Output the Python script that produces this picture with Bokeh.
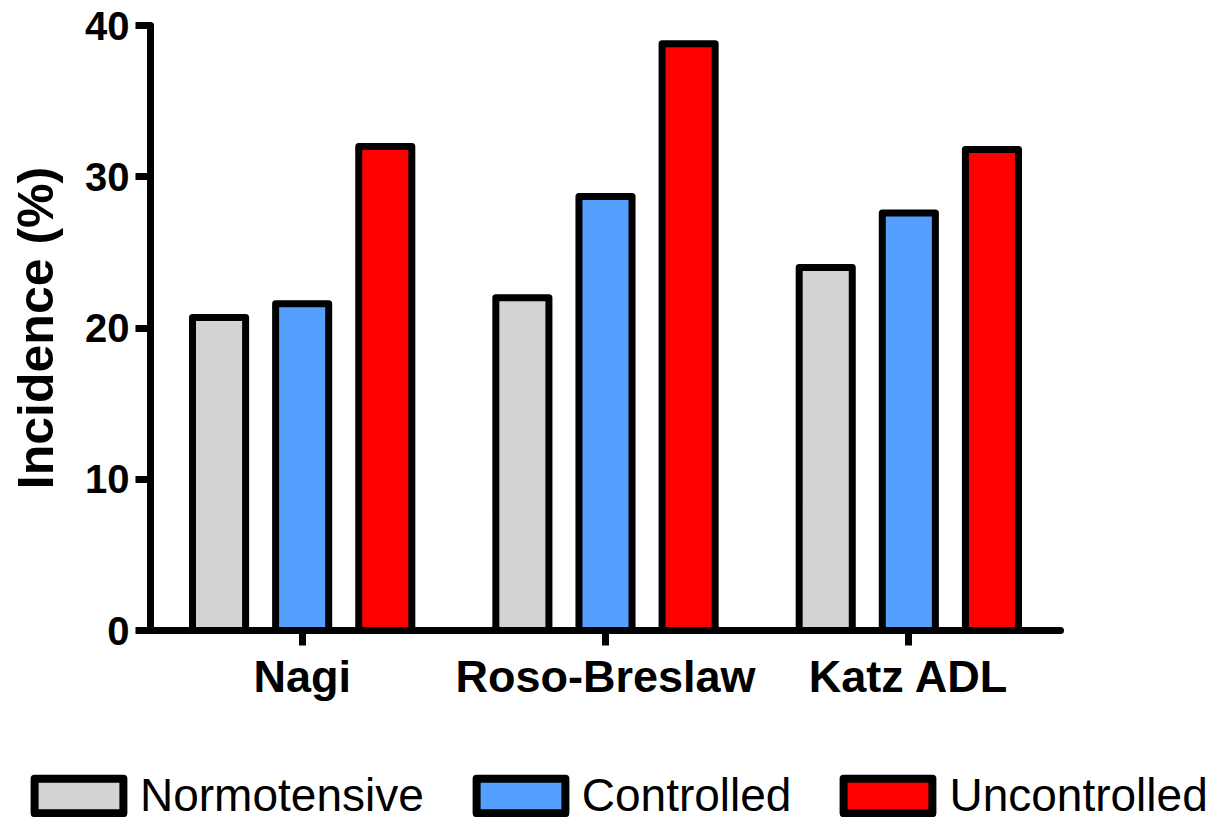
from bokeh.plotting import figure
from bokeh.models import FactorRange, Range1d, Legend, LegendItem, ColumnDataSource, FixedTicker
from bokeh.layouts import column
from bokeh.transform import dodge
from bokeh.embed import file_html
from bokeh.resources import INLINE

categories = ["Nagi", "Roso-Breslaw", "Katz ADL"]
series = ["Normotensive", "Controlled", "Uncontrolled"]
normotensive = [20.7, 22.0, 24.0]
controlled = [21.6, 28.7, 27.6]
uncontrolled = [32.0, 38.8, 31.8]
colors = ["#D3D3D3", "#55A0FF", "#FF0000"]
y_ticks = [0, 10, 20, 30, 40]

source = ColumnDataSource(dict(cat=categories, Normotensive=normotensive,
                               Controlled=controlled, Uncontrolled=uncontrolled))

font = "Liberation Sans"
offsets = [-0.274, 0.0, 0.274]

p = figure(x_range=FactorRange(*categories), y_range=Range1d(0, 40),
           width=1230, height=735, output_backend="svg", toolbar_location=None,
           min_border_left=150, min_border_right=170, min_border_top=25,
           min_border_bottom=105)
p.frame_align = False

for name, off, col in zip(series, offsets, colors):
    p.vbar(x=dodge("cat", off, range=p.x_range), top=name, width=0.175,
           source=source, fill_color=col, line_color="black", line_width=7,
           line_join="round")

p.xgrid.visible = False
p.ygrid.visible = False
p.outline_line_color = None

p.yaxis.ticker = FixedTicker(ticks=y_ticks)
p.yaxis.minor_tick_line_color = None
for ax in (p.xaxis[0], p.yaxis[0]):
    ax.axis_line_width = 7
    ax.axis_line_color = "black"
    ax.axis_line_cap = "round"
    ax.major_tick_line_width = 7
    ax.major_tick_line_color = "black"
    ax.major_tick_out = 15
    ax.major_tick_in = 0
    ax.major_label_text_font = font
    ax.major_label_text_font_style = "bold"
    ax.major_label_text_color = "black"

p.yaxis.major_label_text_font_size = "40px"
p.yaxis.major_label_standoff = 6
p.xaxis.major_label_text_font_size = "45px"
p.xaxis.major_label_standoff = 5
p.yaxis.axis_label = "Incidence (%)"
p.yaxis.axis_label_text_font = font
p.yaxis.axis_label_text_font_style = "bold"
p.yaxis.axis_label_text_font_size = "50px"
p.yaxis.axis_label_text_color = "black"
p.yaxis.axis_label_standoff = 18

# legend strip below the chart (legend proxies are hidden copies of the bars)
q = figure(width=1230, height=90, output_backend="svg", toolbar_location=None,
           x_range=FactorRange(*categories), y_range=Range1d(0, 1),
           x_axis_location=None, y_axis_location=None, min_border=0)
q.frame_align = False
q.xgrid.visible = False
q.ygrid.visible = False
q.outline_line_color = None
items = []
for name, off, col in zip(series, offsets, colors):
    r = q.vbar(x=dodge("cat", off, range=q.x_range), top=name, width=0.175,
               source=source, fill_color=col, line_color="black",
               line_width=8, line_join="round", visible=False)
    items.append(LegendItem(label=name, renderers=[r]))

legend = Legend(items=items, location=(23, 3), orientation="horizontal",
                glyph_width=111, glyph_height=43, label_height=43,
                label_text_font=font, label_text_font_size="46px",
                label_text_color="black", label_standoff=6, spacing=41,
                padding=0, margin=0, border_line_color=None,
                background_fill_alpha=0, inactive_fill_alpha=0)
q.add_layout(legend)

layout = column(p, q, spacing=0)
open("out.html", "w").write(file_html(layout, INLINE))
